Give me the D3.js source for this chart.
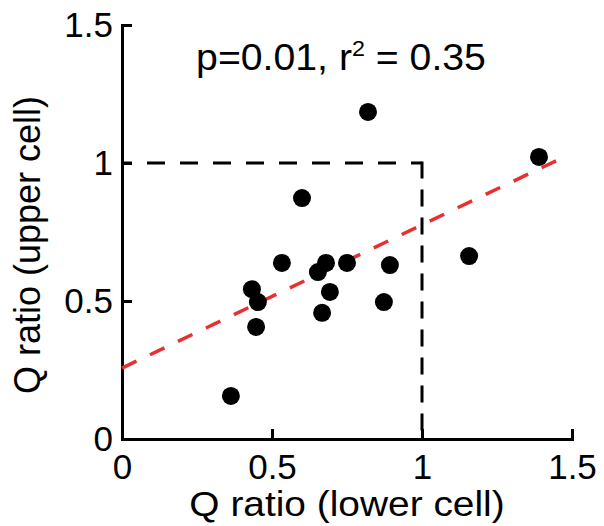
<!DOCTYPE html>
<meta charset="utf-8">

<style>

body {
  margin: 0;
  background: #fff;
}

svg text {
  font-family: "Liberation Sans", Arial, sans-serif;
  fill: #000;
}

.axis path, .axis line {
  stroke: #000;
  stroke-width: 3;
}

.axis text {
  font-size: 35px;
}

</style>


<svg class="chart" width="604" height="526"></svg>


<script src="https://d3js.org/d3.v7.min.js"></script>

<script>

// Q ratios, lower cell (x) vs upper cell (y)
var lowerQ = [0.82, 0.60, 1.157, 1.39, 0.533, 0.68, 0.653, 0.75, 0.893, 0.433, 0.453, 0.693, 0.873, 0.667, 0.447, 0.363];
var upperQ = [1.185, 0.873, 0.663, 1.022, 0.638, 0.638, 0.605, 0.638, 0.63, 0.543, 0.496, 0.533, 0.496, 0.457, 0.406, 0.156];

var tickValues = [0, 0.5, 1, 1.5];
var fitLine = {intercept: 0.257, slope: 0.519, xEnd: 1.49};
var annotation = "p=0.01, r";

var svg = d3.select("svg.chart");

var x = d3.scaleLinear().domain([0, 1.5]).range([122, 572]);
var y = d3.scaleLinear().domain([0, 1.5]).range([439, 25]);

// dashed reference box at ratio = 1
svg.append("line")
  .attr("x1", x(0)).attr("x2", x(1))
  .attr("y1", y(1)).attr("y2", y(1))
  .attr("stroke", "#000")
  .attr("stroke-width", 3)
  .attr("stroke-dasharray", "18,15")
  .attr("stroke-dashoffset", 8);

svg.append("line")
  .attr("x1", x(1)).attr("x2", x(1))
  .attr("y1", y(1) - 1.5).attr("y2", y(0))
  .attr("stroke", "#000")
  .attr("stroke-width", 3)
  .attr("stroke-dasharray", "17,11");

// axes
svg.append("g")
  .attr("class", "axis")
  .attr("transform", `translate(0,${y(0)})`)
  .call(d3.axisBottom(x).tickValues(tickValues).tickFormat(d3.format("")).tickSize(-10).tickSizeOuter(0).tickPadding(15))
  .call(g => g.selectAll("text").attr("font-family", null));

svg.append("g")
  .attr("class", "axis")
  .attr("transform", `translate(${x(0)},0)`)
  .call(d3.axisLeft(y).tickValues(tickValues).tickFormat(d3.format("")).tickSize(-10).tickSizeOuter(0).tickPadding(9))
  .call(g => g.selectAll("text").attr("font-family", null));

svg.selectAll(".axis .domain").attr("stroke-linecap", "square");

// regression line
svg.append("line")
  .attr("x1", x(0))
  .attr("y1", y(fitLine.intercept))
  .attr("x2", x(fitLine.xEnd))
  .attr("y2", y(fitLine.intercept + fitLine.slope * fitLine.xEnd))
  .attr("stroke", "#e8302f")
  .attr("stroke-width", 3.5)
  .attr("stroke-dasharray", "16,15");

// points
svg.append("g")
  .selectAll("circle")
  .data(lowerQ)
  .join("circle")
    .attr("cx", d => x(d))
    .attr("cy", (d, i) => y(upperQ[i]))
    .attr("r", 9)
    .attr("fill", "#000");

// labels
svg.append("text")
  .attr("transform", `translate(${(x(0) + x(1.5)) / 2},516) scale(1.08,1)`)
  .attr("text-anchor", "middle")
  .attr("font-size", 36)
  .text("Q ratio (lower cell)");

svg.append("text")
  .attr("transform", "translate(40,245) rotate(-90)")
  .attr("text-anchor", "middle")
  .attr("font-size", 36)
  .text("Q ratio (upper cell)");

var note = svg.append("text")
  .attr("transform", "translate(341,70) scale(1.06,1)")
  .attr("text-anchor", "middle")
  .attr("font-size", 37)
  .text(annotation);
note.append("tspan")
  .attr("font-size", 22)
  .attr("dy", -14)
  .text("2");
note.append("tspan")
  .attr("dy", 14)
  .text(" = 0.35");

</script>
